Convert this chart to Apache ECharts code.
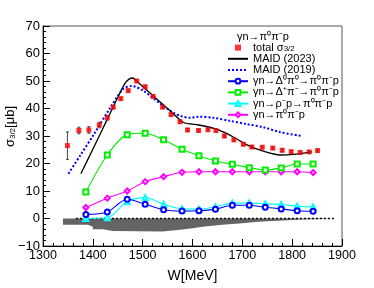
<!DOCTYPE html>
<html>
<head>
<meta charset="utf-8">
<script src="https://cdn.jsdelivr.net/npm/echarts@6/dist/echarts.min.js"></script>
<style>html,body{margin:0;padding:0;background:#fff}#c{width:374px;height:288px}</style>
</head>
<body>
<div id="c"></div>
<script>
// ---- data ----
var totalW   = [1349,1372,1392,1413,1429,1441,1456,1471,1488,1505,1521,1540,1557,1575,1590,1612,1631,1647,1664,1683,1702,1719,1740,1761,1780,1798,1816,1834,1851];
var totalSig = [26.5,32.0,32.2,34.0,36.6,40.5,43.6,46.5,50.0,47.9,44.4,40.5,37.8,35.2,32.2,32.0,32.3,32.0,30.0,28.6,27.0,26.0,25.9,25.6,24.8,24.3,24.0,24.2,24.7];
var totalErr = [5.0,1.2,1.2,1.0,0.8,0.6,0.5,0.5,0.5,0.5,0.5,0.5,0.5,0.5,0.5,0.5,0.5,0.5,0.5,0.5,0.5,0.5,0.5,0.5,0.5,0.5,0.5,0.5,0.5];

var maid23W   = [1376,1400,1430,1455,1465,1472,1480,1490,1520,1550,1582,1612,1645,1665,1690,1709,1742,1776,1803,1840];
var maid23Sig = [16.3,25.2,36.5,45.9,49.3,50.6,51.1,49.6,44.8,40.0,34.9,34.0,32.7,31.2,28.8,26.8,24.5,23.1,23.3,24.2];

var maid19W   = [1351,1375,1401,1434,1461,1478,1501,1535,1562,1578,1595,1612,1642,1675,1709,1742,1776,1819];
var maid19Sig = [16.3,23.0,30.3,40.0,47.1,48.2,46.5,41.8,38.4,37.2,36.6,37.0,36.6,35.5,34.3,33.2,31.4,30.0];

var compW     = [1386,1429,1469,1505,1542,1579,1613,1646,1680,1714,1746,1778,1810,1842];
var delta0Sig = [1.5,2.4,7.0,5.2,3.2,2.7,2.8,3.4,4.8,4.8,4.1,3.5,2.8,2.6];
var deltaPSig = [9.6,23.1,30.5,31.0,28.6,25.2,22.8,20.9,19.7,18.5,17.6,18.4,19.8,19.8];
var rhoSig    = [0.0,0.3,6.2,7.6,5.2,3.5,3.4,4.2,5.6,5.6,5.3,5.1,4.5,4.2];
var phaseSig  = [4.0,7.4,10.0,13.4,15.2,16.8,17.0,17.0,17.0,17.0,17.0,17.0,17.0,16.7];

var sysEdges = [1340,1390,1400,1420,1440,1540,1560,1580,1600,1620,1640,1660,1680,1700,1720,1740,1760,1780,1800,1820,1840,1860,1880];
var sysVals  = [-2.3,-3.0,-3.9,-4.5,-4.7,-4.4,-4.0,-3.5,-3.0,-2.6,-2.3,-2.0,-1.7,-1.4,-1.1,-0.9,-0.7,-0.5,-0.4,-0.3,-0.2,-0.1,-0.1];

var zeroW = [1366,1886];
var zeroSig = [0,0];

var xTicks = {min:1300,max:1900,step:100};
var yTicks = {min:-10,max:70,step:10};

var labels = {
  total: 'total σ{sub|3/2}',
  maid23: 'MAID (2023)',
  maid19: 'MAID (2019)',
  d0: 'γn→Δ⁰π⁰→π⁰π⁻p',
  dp: 'γn→Δ⁺π⁻→π⁰π⁻p',
  rho: 'γn→ρ⁻p→π⁰π⁻p',
  ps: 'γn→π⁰π⁻p'
};

function zip(a,b){return a.map(function(v,i){return [v,b[i]];});}

var FONT = 'Liberation Sans, Arial, sans-serif';

var chart = echarts.init(document.getElementById('c'), null, {renderer:'canvas'});
var compLine = function(name,color,symbol,data){
  return {name:name,type:'line',data:data,smooth:0.3,symbol:symbol,symbolSize:5,showSymbol:true,
    lineStyle:{color:color,width:1.1},itemStyle:{color:color,borderColor:color,borderWidth:1},z:5};
};

chart.setOption({
  animation:false,
  backgroundColor:'#fff',
  textStyle:{fontFamily:FONT},
  title:{text:'γn→π⁰π⁻p',left:232,top:26,textStyle:{fontSize:11,fontWeight:'normal',color:'#000',fontFamily:FONT}},
  grid:{left:43,right:32,top:26,bottom:32,show:true,borderColor:'#555',borderWidth:1},
  legend:{
    data:[
      {name:'total',icon:'path://M0 0L10 0L10 10L0 10Z',itemStyle:{color:'#ff0000'}},
      {name:'maid23',itemStyle:{opacity:0}},
      {name:'maid19',itemStyle:{opacity:0}},
      'd0','dp','rho','ps'],
    symbolKeepAspect:true,
    orient:'vertical', left:222, top:37, itemWidth:20, itemHeight:6, itemGap:0,
    formatter:function(n){return labels[n];},
    textStyle:{fontSize:11,color:'#000',fontFamily:FONT,lineHeight:11.2,
      rich:{sub:{fontSize:8,verticalAlign:'bottom',padding:[5,0,0,0],fontFamily:FONT}}}
  },
  xAxis:{type:'value',min:xTicks.min,max:xTicks.max,interval:xTicks.step,
    axisLine:{onZero:false,lineStyle:{color:'#000',width:1}},
    axisTick:{inside:true,length:7,lineStyle:{color:'#000'}},
    minorTick:{show:true,splitNumber:5,length:3,lineStyle:{color:'#000'}},
    splitLine:{show:false},
    axisLabel:{fontSize:12.5,color:'#000',margin:3,fontFamily:FONT,formatter:function(v){return String(v);}},
    name:'W[MeV]',nameLocation:'middle',nameGap:23,nameTextStyle:{fontSize:14,color:'#000',fontFamily:FONT}
  },
  yAxis:{type:'value',min:yTicks.min,max:yTicks.max,interval:yTicks.step,
    axisLine:{onZero:false,lineStyle:{color:'#000',width:1}},
    axisTick:{inside:true,length:7,lineStyle:{color:'#000'}},
    minorTick:{show:true,splitNumber:5,length:3,lineStyle:{color:'#000'}},
    splitLine:{show:false},
    axisLabel:{fontSize:13,color:'#000',margin:3,fontFamily:FONT,
      formatter:function(v){return v<0?'\u2212'+(-v):String(v);}}
  },
  graphic:[{type:'text',left:4,top:106,rotation:Math.PI/2,
    style:{text:'σ{sub|3/2}[μb]',fontSize:13,fill:'#000',fontFamily:FONT,
      rich:{sub:{fontSize:8,padding:[5,0,0,0],fontFamily:FONT,fill:'#000'}}}}],
  series:[
    {name:'sys',type:'line',step:'end',data:zip(sysEdges,sysVals),symbol:'none',
      lineStyle:{width:0,color:'#646464'},areaStyle:{color:'#646464',opacity:1},z:1},
    {name:'zero',type:'line',data:zip(zeroW,zeroSig),symbol:'none',
      lineStyle:{color:'#000',width:1.5,type:[2,2]},z:2},
    compLine('ps','#ff00ff','emptyDiamond',zip(compW,phaseSig)),
    compLine('dp','#00ee00','emptyRect',zip(compW,deltaPSig)),
    compLine('rho','#00ffff','emptyTriangle',zip(compW,rhoSig)),
    compLine('d0','#0000ff','emptyCircle',zip(compW,delta0Sig)),
    {name:'maid19',type:'line',data:zip(maid19W,maid19Sig),smooth:0.3,symbol:'none',
      lineStyle:{color:'#0000ff',width:2,type:[2,2]},itemStyle:{color:'#0000ff'},z:6},
    {name:'maid23',type:'line',data:zip(maid23W,maid23Sig),smooth:0.2,symbol:'none',
      lineStyle:{color:'#000',width:1.3},itemStyle:{color:'#000'},z:7},
    {name:'err',type:'custom',z:8,
      data:totalW.map(function(w,i){return [w,totalSig[i],totalErr[i]];}),
      renderItem:function(params,api){
        var x=api.value(0),y=api.value(1),e=api.value(2);
        var lo=api.coord([x,y-e]),hi=api.coord([x,y+e]);
        var st={stroke:'#444',lineWidth:1};
        return {type:'group',children:[
          {type:'line',shape:{x1:lo[0],y1:lo[1],x2:hi[0],y2:hi[1]},style:st},
          {type:'line',shape:{x1:lo[0]-1.5,y1:lo[1],x2:lo[0]+1.5,y2:lo[1]},style:st},
          {type:'line',shape:{x1:hi[0]-1.5,y1:hi[1],x2:hi[0]+1.5,y2:hi[1]},style:st}
        ]};
      }},
    {name:'total',type:'scatter',data:zip(totalW,totalSig),symbol:'rect',symbolSize:5,
      itemStyle:{color:'#ff0000'},z:9}
  ]
});
</script>
</body>
</html>
